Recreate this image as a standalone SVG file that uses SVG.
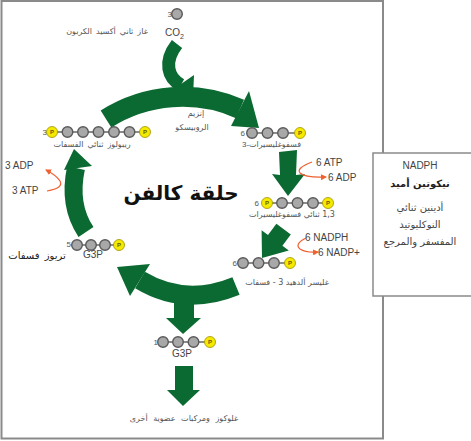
<svg xmlns="http://www.w3.org/2000/svg" width="471" height="441" viewBox="0 0 471 441">
<style>
.ar{font-family:"DejaVu Sans",sans-serif;fill:#555;font-size:8px}
.lt{font-family:"Liberation Sans",sans-serif;fill:#444;font-size:10px}
.num{font-family:"Liberation Sans",sans-serif;fill:#555;font-size:8px}
.c{fill:#a8a8a8;stroke:#5a5a5a;stroke-width:1.4}
.p{fill:#f5e900;stroke:#a09000;stroke-width:0.8}
.pt{font-family:"Liberation Sans",sans-serif;font-size:6px;font-weight:bold;fill:#6b5a00}
.b{stroke:#666;stroke-width:1.6}
.g{fill:#0b6a31}
.gs{fill:none;stroke:#0b6a31}
.o{fill:none;stroke:#f06030;stroke-width:1.2;marker-end:url(#oa)}
.box{fill:#fff;stroke:#8a8a8a;stroke-width:1.5}
</style>
<defs>
<marker id="oa" markerWidth="6" markerHeight="6" refX="5" refY="3" orient="auto" markerUnits="userSpaceOnUse"><path d="M0,0 L6,3 L0,6 z" fill="#f06030"/></marker>
<g id="C"><circle r="5.3" class="c"/></g>
<g id="P"><circle r="5.5" class="p"/><text y="2.2" class="pt" text-anchor="middle">P</text></g>
</defs>
<rect width="471" height="441" fill="#fff"/>
<rect x="1.5" y="1" width="381.5" height="437.5" fill="#fff" stroke="#8a8a8a" stroke-width="2"/>

<g id="connectors">
  <path class="gs" stroke-width="13" d="M177 44 C163 62 168 78 181 85"/>
  <polygon class="g" points="171,91 194,75 193,98"/>
  <path class="gs" stroke-width="20" d="M106 119 A143 143 0 0 1 240 109"/>
  <polygon class="g" points="249,91 231,126 259,128"/>
  <polygon class="g" points="279,152 297,150 296,175 305,174 288,196 272,174 280,175"/>
  <polygon class="g" points="276.4,223.8 290.8,234.6 282.4,245.8 288.8,250.6 262,258 261.6,230.2 268,235"/>
  <path class="gs" stroke-width="19" d="M236 286 Q185 307 140 280"/>
  <polygon class="g" points="150,264 130,296 117,267"/>
  <path class="gs" stroke-width="18" d="M86 232 Q68 205 76 168"/>
  <polygon class="g" points="64,170 92,166 74,149"/>
  <polygon class="g" points="174,292 194,292 194,318 201,318 183,334 166,318 174,318"/>
  <polygon class="g" points="175,366 193,366 193,390 200,390 183,406 167,390 175,390"/>
  <path class="o" d="M312 162 Q296 168 300 173 Q306 178 326 177"/>
  <path class="o" d="M306 238 Q294 244 300 249 Q306 253 318 252"/>
  <path class="o" d="M47 191 Q64 188 60 181 Q56 175 46 170"/>
</g>

<g id="co2">
  <text class="num" x="172" y="17" text-anchor="end">3</text>
  <use href="#C" x="177" y="14"/>
  <text class="lt" x="165" y="36" font-size="11" fill="#555">CO<tspan font-size="7" dy="3">2</tspan></text>
  <text class="ar" x="107" y="34" text-anchor="middle" font-size="9" word-spacing="1.5">غاز ثاني أكسيد الكربون</text>
</g>

<g id="rubisco">
  <text class="ar" x="196" y="116" text-anchor="middle">إنزيم</text>
  <text class="ar" x="192" y="130" text-anchor="middle">الروبيسكو</text>
</g>

<g id="rubp">
  <text class="num" x="47" y="135" text-anchor="end">3</text>
  <line class="b" x1="52" y1="132" x2="145" y2="132"/>
  <use href="#P" x="52" y="132"/>
  <use href="#C" x="67.5" y="132"/><use href="#C" x="83" y="132"/><use href="#C" x="98.5" y="132"/><use href="#C" x="114" y="132"/><use href="#C" x="129.5" y="132"/>
  <use href="#P" x="145" y="132"/>
  <text class="ar" x="92" y="147" text-anchor="middle" font-size="9" word-spacing="1.5">ريبولوز ثنائي الفسفات</text>
</g>

<g id="pga">
  <text class="num" x="245" y="136" text-anchor="end">6</text>
  <line class="b" x1="252" y1="133" x2="300" y2="133"/>
  <use href="#C" x="252" y="133"/><use href="#C" x="267.5" y="133"/><use href="#C" x="283" y="133"/>
  <use href="#P" x="300" y="133"/>
  <text class="num" x="242" y="147" text-anchor="start">3-</text>
  <text class="ar" x="301" y="147" text-anchor="end" font-size="7.5">فسفوغليسيرات</text>
</g>

<g id="atp6">
  <text class="lt" x="316" y="166">6 ATP</text>
  <text class="lt" x="328" y="181">6 ADP</text>
</g>

<g id="bpg">
  <text class="num" x="259" y="206" text-anchor="end">6</text>
  <line class="b" x1="267" y1="203" x2="328" y2="203"/>
  <use href="#P" x="267" y="203"/>
  <use href="#C" x="282" y="203"/><use href="#C" x="297.5" y="203"/><use href="#C" x="313" y="203"/>
  <use href="#P" x="328" y="203"/>
  <text class="ar" x="292" y="217" text-anchor="middle" direction="rtl">1,3 ثنائي فسفوغليسيرات</text>
</g>

<g id="nadph6">
  <text class="lt" x="305" y="241">6 NADPH</text>
  <text class="lt" x="318" y="256">6 NADP+</text>
</g>

<g id="g3p6">
  <text class="num" x="237" y="266" text-anchor="end">6</text>
  <line class="b" x1="243" y1="263" x2="290" y2="263"/>
  <use href="#C" x="243" y="263"/><use href="#C" x="258.5" y="263"/><use href="#C" x="274" y="263"/>
  <use href="#P" x="290" y="263"/>
  <text class="ar" x="287" y="285" text-anchor="middle" direction="rtl">غليسر ألدهيد 3 - فسفات</text>
</g>

<g id="atp3">
  <text class="lt" x="5" y="169">3 ADP</text>
  <text class="lt" x="12" y="194">3 ATP</text>
</g>

<g id="title">
  <text x="181" y="200" font-family="DejaVu Sans, sans-serif" font-size="20" font-weight="bold" fill="#111" text-anchor="middle">حلقة كالفن</text>
</g>

<g id="g3p5">
  <text class="num" x="71" y="247" text-anchor="end">5</text>
  <line class="b" x1="77" y1="245" x2="119" y2="245"/>
  <use href="#C" x="77" y="245"/><use href="#C" x="91" y="245"/><use href="#C" x="105" y="245"/>
  <use href="#P" x="119" y="245"/>
  <text class="lt" x="93" y="258" font-size="6" text-anchor="middle" fill="#666">G3P</text>
  <text x="37" y="259" font-family="DejaVu Sans, sans-serif" font-size="10" fill="#222" text-anchor="middle" word-spacing="2">تريوز فسفات</text>
</g>

<g id="g3p1">
  <text class="num" x="158" y="345" text-anchor="end">1</text>
  <line class="b" x1="163" y1="342" x2="210" y2="342"/>
  <use href="#C" x="163" y="342"/><use href="#C" x="178" y="342"/><use href="#C" x="193.5" y="342"/>
  <use href="#P" x="210" y="342"/>
  <text class="lt" x="182" y="357" font-size="6" text-anchor="middle" fill="#666">G3P</text>
</g>

<g id="glucose">
  <text class="ar" x="184" y="421" text-anchor="middle" font-size="11" word-spacing="3">غلوكوز ومركبات عضوية أخرى</text>
</g>

<g id="nadpbox">
  <rect class="box" x="373" y="153" width="100" height="143"/>
  <text class="lt" x="420" y="169" text-anchor="middle" font-size="11">NADPH</text>
  <text x="420" y="187" font-family="DejaVu Sans, sans-serif" font-size="10" font-weight="bold" fill="#222" text-anchor="middle">نيكوتين أميد</text>
  <text x="420" y="211" font-family="DejaVu Sans, sans-serif" font-size="10" fill="#444" text-anchor="middle">أدينين ثنائي</text>
  <text x="420" y="228" font-family="DejaVu Sans, sans-serif" font-size="10" fill="#444" text-anchor="middle">النوكليوتيد</text>
  <text x="420" y="245" font-family="DejaVu Sans, sans-serif" font-size="10" fill="#444" text-anchor="middle">المفسفر والمرجع</text>
</g>
</svg>
